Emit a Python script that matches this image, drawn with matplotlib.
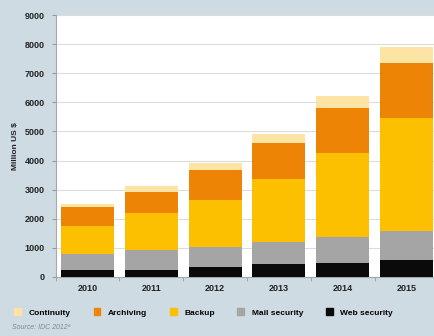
import numpy as np
import matplotlib
matplotlib.use("Agg")
import matplotlib.pyplot as plt
from matplotlib.patches import Patch

plt.rcParams['font.family'] = ['Liberation Sans Narrow', 'Liberation Sans', 'DejaVu Sans']

# data (million US $)
years = ['2010', '2011', '2012', '2013', '2014', '2015']
web_security = [250, 250, 340, 440, 490, 570]
mail_security = [520, 670, 690, 760, 890, 1000]
backup = [970, 1260, 1630, 2180, 2890, 3900]
archiving = [670, 740, 1010, 1230, 1540, 1900]
continuity = [110, 220, 230, 300, 420, 540]

series = [
    ('Web security', web_security, '#0a0a0a'),
    ('Mail security', mail_security, '#a5a5a5'),
    ('Backup', backup, '#fdc000'),
    ('Archiving', archiving, '#ee8406'),
    ('Continuity', continuity, '#fde4a4'),
]

bg = '#cfdbe3'
fig = plt.figure(figsize=(4.35, 3.36), dpi=100, facecolor=bg)
ax = fig.add_axes([0.1278, 0.176, 0.88, 0.779])
ax.set_facecolor('white')

x = np.arange(len(years))
bottom = np.zeros(len(years))
for name, vals, color in series:
    ax.bar(x, vals, width=0.83, bottom=bottom, color=color, label=name, zorder=3)
    bottom += np.array(vals)

ax.set_xlim(-0.5, len(years) - 0.5)
ax.set_ylim(0, 9000)
ax.set_yticks(np.arange(0, 9001, 1000))
ax.set_xticks(x)
ax.set_xticklabels(years)
ax.set_xticks(np.arange(-0.5, len(years), 1), minor=True)
ax.tick_params(axis='x', which='major', length=0, pad=5, labelsize=6.5, labelcolor='#222222')
ax.tick_params(axis='x', which='minor', length=3, color='#9a9a9a')
ax.tick_params(axis='y', length=3, color='#9a9a9a', pad=5, labelsize=6.5, labelcolor='#222222')
for lbl in ax.get_xticklabels() + ax.get_yticklabels():
    lbl.set_fontweight('bold')

ax.grid(axis='y', color='#dcdcdc', linewidth=0.8, zorder=0)
for s in ['top', 'right']:
    ax.spines[s].set_visible(False)
ax.spines['left'].set_color('#a8a8a8')
ax.spines['bottom'].set_color('#a8a8a8')

ax.set_ylabel('Million US $', fontsize=6, fontweight='bold', color='#222222', labelpad=4)

handles = [Patch(color=c, label=n) for n, v, c in reversed(series)]
fig.legend(handles=handles, loc='center left', bbox_to_anchor=(0.016, 0.07), ncol=5,
           frameon=False, handlelength=0.8, handleheight=0.8,
           handletextpad=0.9, columnspacing=2.75, prop={'weight': 'bold', 'size': 6})

fig.text(0.028, 0.022, 'Source: IDC 2012\u00aa', fontsize=5, style='italic', color='#7a8a96')

fig.savefig('out.png', dpi=100, facecolor=bg)
